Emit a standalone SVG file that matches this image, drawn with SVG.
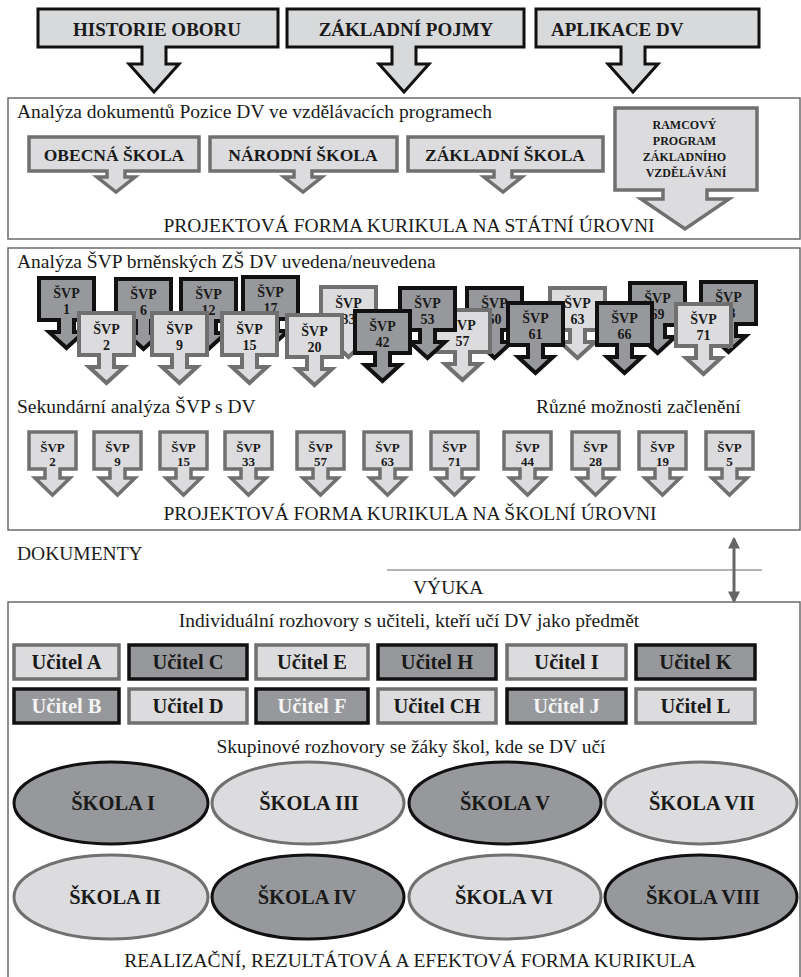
<svg xmlns="http://www.w3.org/2000/svg" xmlns:xlink="http://www.w3.org/1999/xlink" width="801" height="977" viewBox="0 0 801 977">
<style>
  .t { font-family: "Liberation Serif", "Times New Roman", serif; fill: #1a1a1a; }
  .b { font-weight: bold; }
  .r { font-size: 19.5px; }
  .frame { fill: none; stroke: #6a6a6a; stroke-width: 1.5; }
  .top { fill: #d8d9db; stroke: #111; stroke-width: 3; }
  .lg { fill: #dcdcde; stroke: #707070; stroke-width: 3.5; }
  .dk { fill: #97989b; stroke: #111; stroke-width: 3.5; }
  .lgc { fill: #dcdcde; stroke: #707070; stroke-width: 4; }
  .dkc { fill: #97989b; stroke: #111; stroke-width: 4; }
  .el-l { fill: #dcdcde; stroke: #707070; stroke-width: 3; }
  .el-d { fill: #97989b; stroke: #111; stroke-width: 3; }
  .w { fill: #f4f4f4; }
  .u { font-size: 20.5px; }
</style>
<defs>
  <path id="svpL" d="M0,0H55V42H35V54H45L27.5,70L10,54H20V42H0Z" stroke-linejoin="miter"/>
  <path id="svpS" d="M0,0H47V37H31V46H41L23.5,63L6,46H16V37H0Z" stroke-linejoin="miter"/>
  <marker id="ah" viewBox="0 0 10 10" refX="8" refY="5" markerWidth="4" markerHeight="4" orient="auto-start-reverse">
    <path d="M0,0L10,5L0,10Z" fill="#666"/>
  </marker>
</defs>

<!-- Top callouts -->
<g id="historie">
  <path class="top" d="M38,9H278V47H166V64H179L154,92L129,64H142V47H38Z"/>
  <text class="t b" x="157" y="36" font-size="19" text-anchor="middle">HISTORIE OBORU</text>
</g>
<g id="zakladni-pojmy">
  <path class="top" d="M287,9H524V47H416V64H429L404,92L379,64H392V47H287Z"/>
  <text class="t b" x="406" y="36" font-size="19" text-anchor="middle">ZÁKLADNÍ POJMY</text>
</g>
<g id="aplikace">
  <path class="top" d="M536,9H759V47H645V64H658L633,92L608,64H621V47H536Z"/>
  <text class="t b" x="551" y="36" font-size="19">APLIKACE DV</text>
</g>

<!-- Section 1 -->
<g id="sec1">
  <rect class="frame" x="8" y="98" width="792" height="141"/>
  <text class="t r" x="17" y="118">Analýza dokumentů Pozice DV ve vzdělávacích programech</text>
  <text class="t r" x="409" y="232" text-anchor="middle">PROJEKTOVÁ FORMA KURIKULA NA STÁTNÍ ÚROVNI</text>
</g>
<g id="obecna">
  <path class="lg" d="M29,137H199V171H125V177H135L116,192L97,177H107V171H29Z"/>
  <text class="t b" x="114" y="161" font-size="17.5" text-anchor="middle">OBECNÁ ŠKOLA</text>
</g>
<g id="narodni">
  <path class="lg" d="M210,137H397V171H312V177H322L303,192L284,177H294V171H210Z"/>
  <text class="t b" x="303" y="161" font-size="17.5" text-anchor="middle">NÁRODNÍ ŠKOLA</text>
</g>
<g id="zakladni-skola">
  <path class="lg" d="M408,137H603V171H512V177H522L503,192L484,177H494V171H408Z"/>
  <text class="t b" x="505" y="161" font-size="17.5" text-anchor="middle">ZÁKLADNÍ ŠKOLA</text>
</g>
<g id="ramcovy">
  <path class="lg" d="M615,108H757V190H707V199H729L685,229L641,199H663V190H615Z"/>
  <text class="t b" font-size="12" text-anchor="middle">
    <tspan x="686" y="129">RAMCOVÝ</tspan>
    <tspan x="686" y="145">PROGRAM</tspan>
    <tspan x="686" y="161">ZÁKLADNÍHO</tspan>
    <tspan x="686" y="177">VZDĚLÁVÁNÍ</tspan>
  </text>
</g>

<!-- Section 2 -->
<g id="sec2">
  <rect class="frame" x="8" y="248" width="792" height="282"/>
  <text class="t r" x="17" y="268">Analýza ŠVP brněnských ZŠ DV uvedena/neuvedena</text>
  <text class="t r" x="17" y="413">Sekundární analýza ŠVP s DV</text>
  <text class="t r" x="536" y="413">Různé možnosti začlenění</text>
  <text class="t r" x="410" y="520" text-anchor="middle">PROJEKTOVÁ FORMA KURIKULA NA ŠKOLNÍ ÚROVNI</text>
</g>

<!-- ŠVP cluster -->
<g id="svp1"><use href="#svpL" class="dkc" x="39" y="278"/><text class="t b" x="66.5" y="298" font-size="14" text-anchor="middle">ŠVP</text><text class="t b" x="66.5" y="314" font-size="14" text-anchor="middle">1</text></g>
<g id="svp6"><use href="#svpL" class="dkc" x="116" y="279"/><text class="t b" x="143.5" y="299" font-size="14" text-anchor="middle">ŠVP</text><text class="t b" x="143.5" y="315" font-size="14" text-anchor="middle">6</text></g>
<g id="svp12"><use href="#svpL" class="dkc" x="181" y="279"/><text class="t b" x="208.5" y="299" font-size="14" text-anchor="middle">ŠVP</text><text class="t b" x="208.5" y="315" font-size="14" text-anchor="middle">12</text></g>
<g id="svp17"><use href="#svpL" class="dkc" x="243" y="277"/><text class="t b" x="270.5" y="297" font-size="14" text-anchor="middle">ŠVP</text><text class="t b" x="270.5" y="313" font-size="14" text-anchor="middle">17</text></g>
<g id="svp2"><use href="#svpL" class="lgc" x="79" y="313"/><text class="t b" x="106.5" y="334" font-size="14" text-anchor="middle">ŠVP</text><text class="t b" x="106.5" y="350" font-size="14" text-anchor="middle">2</text></g>
<g id="svp9"><use href="#svpL" class="lgc" x="152" y="313"/><text class="t b" x="179.5" y="334" font-size="14" text-anchor="middle">ŠVP</text><text class="t b" x="179.5" y="350" font-size="14" text-anchor="middle">9</text></g>
<g id="svp15"><use href="#svpL" class="lgc" x="222" y="313"/><text class="t b" x="249.5" y="334" font-size="14" text-anchor="middle">ŠVP</text><text class="t b" x="249.5" y="350" font-size="14" text-anchor="middle">15</text></g>
<g id="svp33"><use href="#svpL" class="lgc" x="321" y="287"/><text class="t b" x="348.5" y="308" font-size="14" text-anchor="middle">ŠVP</text><text class="t b" x="348.5" y="324" font-size="14" text-anchor="middle">33</text></g>
<g id="svp20"><use href="#svpL" class="lgc" x="287" y="315"/><text class="t b" x="314.5" y="336" font-size="14" text-anchor="middle">ŠVP</text><text class="t b" x="314.5" y="352" font-size="14" text-anchor="middle">20</text></g>
<g id="svp60"><use href="#svpL" class="dkc" x="467" y="288"/><text class="t b" x="494.5" y="308" font-size="14" text-anchor="middle">ŠVP</text><text class="t b" x="494.5" y="324" font-size="14" text-anchor="middle">60</text></g>
<g id="svp57"><use href="#svpL" class="lgc" x="435" y="310"/><text class="t b" x="462.5" y="330" font-size="14" text-anchor="middle">ŠVP</text><text class="t b" x="462.5" y="346" font-size="14" text-anchor="middle">57</text></g>
<g id="svp53"><use href="#svpL" class="dkc" x="400" y="288"/><text class="t b" x="427.5" y="308" font-size="14" text-anchor="middle">ŠVP</text><text class="t b" x="427.5" y="324" font-size="14" text-anchor="middle">53</text></g>
<g id="svp42"><use href="#svpL" class="dkc" x="355" y="311"/><text class="t b" x="382.5" y="331" font-size="14" text-anchor="middle">ŠVP</text><text class="t b" x="382.5" y="347" font-size="14" text-anchor="middle">42</text></g>
<g id="svp63"><use href="#svpL" class="lgc" x="550" y="288"/><text class="t b" x="577.5" y="308" font-size="14" text-anchor="middle">ŠVP</text><text class="t b" x="577.5" y="324" font-size="14" text-anchor="middle">63</text></g>
<g id="svp61"><use href="#svpL" class="dkc" x="508" y="303"/><text class="t b" x="535.5" y="323" font-size="14" text-anchor="middle">ŠVP</text><text class="t b" x="535.5" y="339" font-size="14" text-anchor="middle">61</text></g>
<g id="svp69"><use href="#svpL" class="dkc" x="630" y="283"/><text class="t b" x="657.5" y="303" font-size="14" text-anchor="middle">ŠVP</text><text class="t b" x="657.5" y="319" font-size="14" text-anchor="middle">69</text></g>
<g id="svp73"><use href="#svpL" class="dkc" x="701" y="282"/><text class="t b" x="728.5" y="302" font-size="14" text-anchor="middle">ŠVP</text><text class="t b" x="728.5" y="318" font-size="14" text-anchor="middle">73</text></g>
<g id="svp66"><use href="#svpL" class="dkc" x="597" y="303"/><text class="t b" x="624.5" y="323" font-size="14" text-anchor="middle">ŠVP</text><text class="t b" x="624.5" y="339" font-size="14" text-anchor="middle">66</text></g>
<g id="svp71"><use href="#svpL" class="lgc" x="676" y="304"/><text class="t b" x="703.5" y="324" font-size="14" text-anchor="middle">ŠVP</text><text class="t b" x="703.5" y="340" font-size="14" text-anchor="middle">71</text></g>

<!-- Secondary row -->
<g id="s2"><use href="#svpS" class="lg" x="29" y="432"/><text class="t b" x="52.5" y="452" font-size="13" text-anchor="middle">ŠVP</text><text class="t b" x="52.5" y="466" font-size="13" text-anchor="middle">2</text></g>
<g id="s9"><use href="#svpS" class="lg" x="94" y="432"/><text class="t b" x="117.5" y="452" font-size="13" text-anchor="middle">ŠVP</text><text class="t b" x="117.5" y="466" font-size="13" text-anchor="middle">9</text></g>
<g id="s15"><use href="#svpS" class="lg" x="160" y="432"/><text class="t b" x="183.5" y="452" font-size="13" text-anchor="middle">ŠVP</text><text class="t b" x="183.5" y="466" font-size="13" text-anchor="middle">15</text></g>
<g id="s33"><use href="#svpS" class="lg" x="225" y="432"/><text class="t b" x="248.5" y="452" font-size="13" text-anchor="middle">ŠVP</text><text class="t b" x="248.5" y="466" font-size="13" text-anchor="middle">33</text></g>
<g id="s57"><use href="#svpS" class="lg" x="297" y="432"/><text class="t b" x="320.5" y="452" font-size="13" text-anchor="middle">ŠVP</text><text class="t b" x="320.5" y="466" font-size="13" text-anchor="middle">57</text></g>
<g id="s63"><use href="#svpS" class="lg" x="364" y="432"/><text class="t b" x="387.5" y="452" font-size="13" text-anchor="middle">ŠVP</text><text class="t b" x="387.5" y="466" font-size="13" text-anchor="middle">63</text></g>
<g id="s71"><use href="#svpS" class="lg" x="431" y="432"/><text class="t b" x="454.5" y="452" font-size="13" text-anchor="middle">ŠVP</text><text class="t b" x="454.5" y="466" font-size="13" text-anchor="middle">71</text></g>
<g id="s44"><use href="#svpS" class="lg" x="504" y="432"/><text class="t b" x="527.5" y="452" font-size="13" text-anchor="middle">ŠVP</text><text class="t b" x="527.5" y="466" font-size="13" text-anchor="middle">44</text></g>
<g id="s28"><use href="#svpS" class="lg" x="572" y="432"/><text class="t b" x="595.5" y="452" font-size="13" text-anchor="middle">ŠVP</text><text class="t b" x="595.5" y="466" font-size="13" text-anchor="middle">28</text></g>
<g id="s19"><use href="#svpS" class="lg" x="639" y="432"/><text class="t b" x="662.5" y="452" font-size="13" text-anchor="middle">ŠVP</text><text class="t b" x="662.5" y="466" font-size="13" text-anchor="middle">19</text></g>
<g id="s5"><use href="#svpS" class="lg" x="706" y="432"/><text class="t b" x="729.5" y="452" font-size="13" text-anchor="middle">ŠVP</text><text class="t b" x="729.5" y="466" font-size="13" text-anchor="middle">5</text></g>

<!-- Middle -->
<g id="mid">
  <text class="t r" x="17" y="560">DOKUMENTY</text>
  <text class="t r" x="413" y="594">VÝUKA</text>
</g>
<g id="connectors">
  <line x1="387" y1="570" x2="762" y2="570" stroke="#9a9a9a" stroke-width="1.5"/>
  <line x1="734" y1="539" x2="734" y2="601" stroke="#666" stroke-width="3" marker-start="url(#ah)" marker-end="url(#ah)"/>
</g>

<!-- Section 3 -->
<g id="sec3">
  <path class="frame" d="M8,977V602H800V977"/>
  <text class="t r" x="409" y="627" text-anchor="middle">Individuální rozhovory s učiteli, kteří učí DV jako předmět</text>
  <text class="t r" x="411" y="753" text-anchor="middle">Skupinové rozhovory se žáky škol, kde se DV učí</text>
  <text class="t r" x="410" y="967" text-anchor="middle">REALIZAČNÍ, REZULTÁTOVÁ A EFEKTOVÁ FORMA KURIKULA</text>
</g>

<g id="ucitel-a"><rect class="lg" x="14" y="645" width="105" height="34"/><text class="t b u" x="66.5" y="669" text-anchor="middle">Učitel A</text></g>
<g id="ucitel-c"><rect class="dk" x="129" y="645" width="118" height="34"/><text class="t b u" x="188" y="669" text-anchor="middle">Učitel C</text></g>
<g id="ucitel-e"><rect class="lg" x="256" y="645" width="112" height="34"/><text class="t b u" x="312" y="669" text-anchor="middle">Učitel E</text></g>
<g id="ucitel-h"><rect class="dk" x="378" y="645" width="118" height="34"/><text class="t b u" x="437" y="669" text-anchor="middle">Učitel H</text></g>
<g id="ucitel-i"><rect class="lg" x="507" y="645" width="119" height="34" stroke="#222"/><text class="t b u" x="566.5" y="669" text-anchor="middle">Učitel I</text></g>
<g id="ucitel-k"><rect class="dk" x="636" y="645" width="119" height="34"/><text class="t b u" x="695.5" y="669" text-anchor="middle">Učitel K</text></g>

<g id="ucitel-b"><rect class="dk" x="14" y="689" width="105" height="34"/><text class="t b u w" x="66.5" y="713" text-anchor="middle">Učitel B</text></g>
<g id="ucitel-d"><rect class="lg" x="129" y="689" width="118" height="34"/><text class="t b u" x="188" y="713" text-anchor="middle">Učitel D</text></g>
<g id="ucitel-f"><rect class="dk" x="256" y="689" width="112" height="34"/><text class="t b u w" x="312" y="713" text-anchor="middle">Učitel F</text></g>
<g id="ucitel-ch"><rect class="lg" x="378" y="689" width="118" height="34"/><text class="t b u" x="437" y="713" text-anchor="middle">Učitel CH</text></g>
<g id="ucitel-j"><rect class="dk" x="507" y="689" width="119" height="34"/><text class="t b u w" x="566.5" y="713" text-anchor="middle">Učitel J</text></g>
<g id="ucitel-l"><rect class="lg" x="636" y="689" width="119" height="34"/><text class="t b u" x="695.5" y="713" text-anchor="middle">Učitel L</text></g>

<g id="skola-1"><ellipse class="el-d" cx="111" cy="803" rx="97" ry="41"/><text class="t b u" x="113" y="810" text-anchor="middle">ŠKOLA I</text></g>
<g id="skola-3"><ellipse class="el-l" cx="308" cy="803" rx="96" ry="41"/><text class="t b u" x="309" y="810" text-anchor="middle">ŠKOLA III</text></g>
<g id="skola-5"><ellipse class="el-d" cx="505" cy="803" rx="96" ry="41"/><text class="t b u" x="505" y="810" text-anchor="middle">ŠKOLA V</text></g>
<g id="skola-7"><ellipse class="el-l" cx="701" cy="803" rx="96" ry="41"/><text class="t b u" x="702" y="810" text-anchor="middle">ŠKOLA VII</text></g>
<g id="skola-2"><ellipse class="el-l" cx="111" cy="897" rx="97" ry="42"/><text class="t b u" x="115" y="904" text-anchor="middle">ŠKOLA II</text></g>
<g id="skola-4"><ellipse class="el-d" cx="308" cy="897" rx="96" ry="42"/><text class="t b u" x="307" y="904" text-anchor="middle">ŠKOLA IV</text></g>
<g id="skola-6"><ellipse class="el-l" cx="505" cy="897" rx="96" ry="42"/><text class="t b u" x="504" y="904" text-anchor="middle">ŠKOLA VI</text></g>
<g id="skola-8"><ellipse class="el-d" cx="701" cy="897" rx="96" ry="42"/><text class="t b u" x="703" y="904" text-anchor="middle">ŠKOLA VIII</text></g>
</svg>
